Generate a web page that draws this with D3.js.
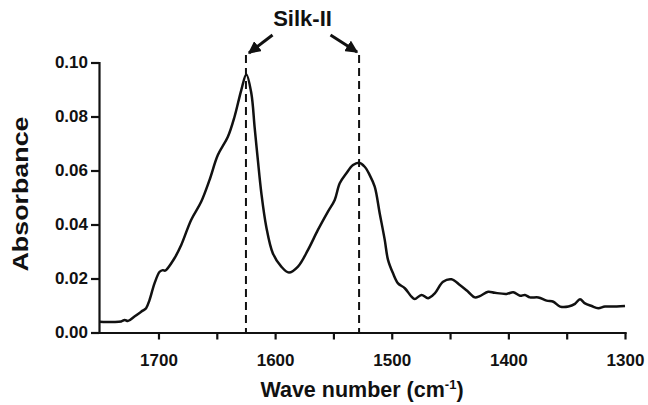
<!DOCTYPE html>
<html>
<head>
<meta charset="utf-8">
<script src="https://cdn.jsdelivr.net/npm/d3@7"></script>
<style>
  body { margin: 0; background: #fff; }
  svg text { font-family: "Liberation Sans", Arial, sans-serif; font-weight: bold; fill: #111; }
</style>
</head>
<body>
<div id="chart"></div>
<script>
// wave number (cm-1) and absorbance
var waveNumbers = [1750.6, 1737.8, 1732, 1729, 1726, 1720.6, 1713.5, 1710.6, 1707.7, 1703.4,
    1699, 1696.3, 1694.3, 1686.3, 1680.5, 1672, 1663.4, 1656.2, 1649.1, 1640.5,
    1634.8, 1629, 1624.7, 1620.4, 1617.6, 1614.8, 1611.8, 1607.6, 1601.9, 1594.7,
    1588.2, 1580.4, 1571.8, 1563.3, 1554.7, 1548.9, 1544.6, 1538.9, 1533.2, 1528,
    1523.2, 1518.9, 1514.6, 1510.3, 1506, 1503.2, 1498.9, 1494.6, 1488.8, 1483.1,
    1480.3, 1474.5, 1468.8, 1463.1, 1456, 1448.8, 1441.6, 1434.5, 1428.8, 1424.5,
    1417.3, 1411.6, 1401.5, 1395.8, 1390, 1385.8, 1381.5, 1374.3, 1367.2, 1361.4,
    1355.6, 1348.5, 1342.9, 1338.6, 1334.3, 1328.6, 1322.9, 1317.2, 1307.1, 1300];
var absorbance = [0.0040, 0.0039, 0.0041, 0.0046, 0.0043, 0.0059, 0.0081, 0.0090, 0.0120, 0.0182,
    0.0225, 0.0231, 0.0229, 0.0275, 0.0324, 0.0417, 0.0484, 0.0565, 0.0657, 0.0725,
    0.0799, 0.0898, 0.0956, 0.0886, 0.0762, 0.0639, 0.0516, 0.0392, 0.0293, 0.0244,
    0.0222, 0.0244, 0.0306, 0.0380, 0.0448, 0.0491, 0.0553, 0.0590, 0.0620, 0.0629,
    0.0614, 0.0583, 0.0540, 0.0441, 0.0343, 0.0269, 0.0219, 0.0182, 0.0164, 0.0133,
    0.0124, 0.0139, 0.0127, 0.0145, 0.0188, 0.0197, 0.0176, 0.0151, 0.0130, 0.0135,
    0.0151, 0.0147, 0.0143, 0.0149, 0.0136, 0.0139, 0.0130, 0.0130, 0.0118, 0.0114,
    0.0096, 0.0096, 0.0106, 0.0123, 0.0108, 0.0098, 0.0090, 0.0096, 0.0096, 0.0098];

var xTicks = [1700, 1650, 1600, 1550, 1500, 1450, 1400, 1350, 1300];
var xTickLabels = ["1700", "", "1600", "", "1500", "", "1400", "", "1300"];
var yTicks = [0, 0.02, 0.04, 0.06, 0.08, 0.10];

// Silk-II band positions marked with dashed lines
var peaks = [1625, 1528];
var peakLabel = "Silk-II";

var data = waveNumbers.map(function(w, i) { return {w: w, a: absorbance[i]}; });

var width = 648, height = 405;
var margin = {top: 62.5, right: 23, bottom: 72.5, left: 99};

var svg = d3.select("#chart").append("svg")
    .attr("width", width)
    .attr("height", height);

var x = d3.scaleLinear()
    .domain([1751, 1300])
    .range([margin.left, width - margin.right]);

var y = d3.scaleLinear()
    .domain([0, 0.10])
    .range([height - margin.bottom, margin.top]);

// x axis
var xAxis = svg.append("g")
    .attr("transform", "translate(0," + y(0) + ")")
    .call(d3.axisBottom(x)
        .tickValues(xTicks)
        .tickFormat(function(d, i) { return xTickLabels[i]; })
        .tickSize(7)
        .tickSizeOuter(0)
        .tickPadding(14));
xAxis.selectAll("text").attr("font-size", 17).style("font-family", null);

// y axis
var yAxis = svg.append("g")
    .attr("transform", "translate(" + x(1751) + ",0)")
    .call(d3.axisLeft(y)
        .tickValues(yTicks)
        .tickFormat(d3.format(".2f"))
        .tickSize(8)
        .tickSizeOuter(0)
        .tickPadding(3));
yAxis.selectAll("text").attr("font-size", 17);

svg.selectAll(".domain, .tick line")
    .attr("stroke", "#111")
    .attr("stroke-width", 2.2);
svg.selectAll(".domain").attr("stroke-linecap", "square");

// dashed peak markers
svg.append("g").selectAll("line")
    .data(peaks)
    .enter().append("line")
    .attr("x1", function(d) { return x(d); })
    .attr("x2", function(d) { return x(d); })
    .attr("y1", y(0.1028))
    .attr("y2", y(0))
    .attr("stroke", "#111")
    .attr("stroke-width", 2)
    .attr("stroke-dasharray", "8,5");

// spectrum
var line = d3.line()
    .x(function(d) { return x(d.w); })
    .y(function(d) { return y(d.a); })
    .curve(d3.curveCatmullRom.alpha(0.5));

svg.append("path")
    .datum(data)
    .attr("fill", "none")
    .attr("stroke", "#111")
    .attr("stroke-width", 2.5)
    .attr("stroke-linejoin", "round")
    .attr("d", line);

// annotation: label and arrows
svg.append("defs").append("marker")
    .attr("id", "head")
    .attr("viewBox", "0 0 10 10")
    .attr("refX", 9).attr("refY", 5)
    .attr("markerWidth", 4.2).attr("markerHeight", 4.2)
    .attr("markerUnits", "strokeWidth")
    .attr("orient", "auto")
    .append("path")
    .attr("d", "M0,0 L10,5 L0,10 Z")
    .attr("fill", "#111");

var labelX = (x(peaks[0]) + x(peaks[1])) / 2;
svg.append("text")
    .attr("x", labelX)
    .attr("y", 26)
    .attr("text-anchor", "middle")
    .attr("font-size", 22)
    .text(peakLabel);

svg.append("line")
    .attr("x1", labelX - 30).attr("y1", 35)
    .attr("x2", x(peaks[0]) + 3).attr("y2", 53)
    .attr("stroke", "#111").attr("stroke-width", 3)
    .attr("marker-end", "url(#head)");
svg.append("line")
    .attr("x1", labelX + 28).attr("y1", 35)
    .attr("x2", x(peaks[1]) - 2).attr("y2", 52)
    .attr("stroke", "#111").attr("stroke-width", 3)
    .attr("marker-end", "url(#head)");

// axis titles
svg.append("text")
    .attr("transform", "translate(28," + (194) + ") rotate(-90)")
    .attr("text-anchor", "middle")
    .attr("font-size", 22)
    .attr("textLength", 155)
    .attr("lengthAdjust", "spacingAndGlyphs")
    .text("Absorbance");

var xTitle = svg.append("text")
    .attr("x", 362)
    .attr("y", 397)
    .attr("text-anchor", "middle")
    .attr("font-size", 21.5);
xTitle.append("tspan").text("Wave number (cm");
xTitle.append("tspan").attr("font-size", 13).attr("dy", -8).text("-1");
xTitle.append("tspan").attr("dy", 8).text(")");
</script>
</body>
</html>
